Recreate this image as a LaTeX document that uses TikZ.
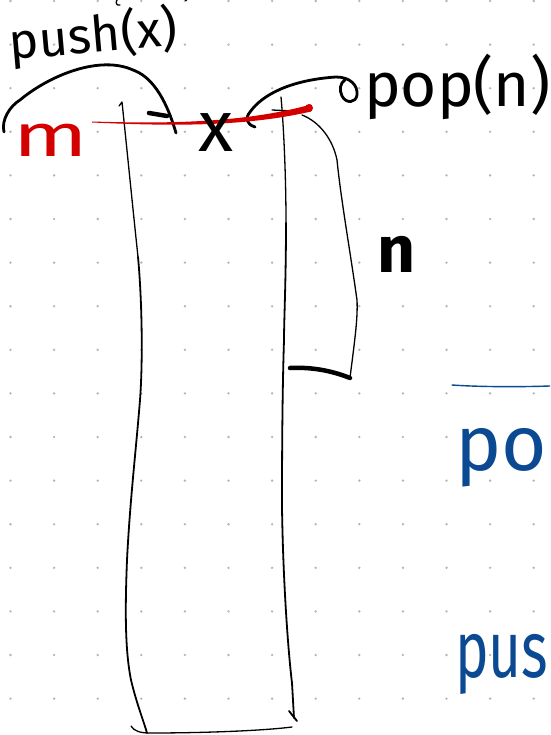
\documentclass[tikz,border=0pt]{standalone}
\usepackage{fontspec}
\setmainfont{Fira Sans}
\usetikzlibrary{arrows.meta}
\definecolor{inkred}{HTML}{D40000}
\definecolor{inkblue}{HTML}{0B4A92}
\definecolor{dotgray}{HTML}{B4B4B4}
\begin{document}
\begin{tikzpicture}[x=1pt,y=-1pt,
  ink/.style={line cap=round,line join=round,draw=black},
  hairink/.style={ink,line width=1.3pt},
  thinink/.style={ink,line width=1.8pt},
  midink/.style={ink,line width=2.8pt},
  thickink/.style={ink,line width=4.5pt},
  hand/.style={inner sep=0pt,outer sep=0pt,anchor=base west},
]
\useasboundingbox (0,0) rectangle (550,735);
\clip (0,0) rectangle (550,735);
\fill[white] (0,0) rectangle (550,735);
% dot grid
\foreach \i in {0,...,12}{\foreach \j in {0,...,16}{\fill[dotgray] (10.5+43.6*\i,1+43.6*\j) circle (1.3pt);}}

% fragments at the top edge
\draw[hairink] (117,0) .. controls (115,3) and (117,6) .. (120,5);
\fill (186,0) circle (1.5pt);

% stack: left side
\draw[hairink] (119,106) -- (122,102) .. controls (126,140) and (133,210) .. (138,257);
\draw[thinink] (138,257) .. controls (142,300) and (143,360) .. (140,400)
   .. controls (136,450) and (130,500) .. (127,560)
   .. controls (125,610) and (125,650) .. (131,680)
   .. controls (137,705) and (144,722) .. (147,733);
% stack: bottom
\draw[hairink] (131,726) .. controls (134,731) and (140,733) .. (150,733)
   .. controls (200,733) and (260,731) .. (292,727);
% stack: right side
\draw[hairink] (272,110) -- (293,111);
\draw[hairink] (281,97) .. controls (284,130) and (286,180) .. (286,223);
\draw[thinink] (286,223) .. controls (286,280) and (284,320) .. (284,340)
   .. controls (282,400) and (282,480) .. (282,507)
   .. controls (283,580) and (288,650) .. (292,683) -- (294,718);
\draw[thinink] (289,711) -- (297,721);

% n bracket
\draw[hairink] (302,115) .. controls (320,122) and (333,140) .. (337,160)
   .. controls (341,200) and (350,250) .. (357,300)
   .. controls (358,320) and (354,345) .. (350,378);
\draw[thickink] (290,368) .. controls (310,367) and (330,370) .. (350,378);

% push arc
\coordinate (pushstart) at (4,132);
\coordinate (pushend) at (176,133);
\draw[midink] (pushstart) .. controls (1,120) and (10,106) .. (20,100)
   .. controls (50,75) and (100,55) .. (133,70)
   .. controls (150,76) and (165,95) .. (pushend);
\draw[ink,line width=4.5pt] (149,113) -- (167,116);

% pop arc
\coordinate (popstart) at (255,127);
\draw[midink] (popstart) .. controls (246,124) and (245,118) .. (250,112)
   .. controls (262,95) and (290,80) .. (336,77)
   .. controls (350,77) and (358,85) .. (357,95)
   .. controls (356,103) and (346,104) .. (342,96)
   .. controls (339,90) and (340,83) .. (345,80);

% red top line
\fill[inkred] (92,121.5) .. controls (160,123.5) and (240,124) .. (311,104.5)
   -- (311,111.5) .. controls (240,128) and (160,125.5) .. (92,122.5) -- cycle;
\fill[inkred] (309,108) circle (4pt);

% texts
\node[hand,rotate=5,font=\fontsize{50}{50}\selectfont] (push) at (11,60) {push(x)};
\node[hand,font=\fontsize{72}{72}\selectfont] (xlab) at (198,152) {x};
\node[hand,font=\fontsize{62}{62}\selectfont] (pop) at (364,107) {pop(n)};
\node[hand,font=\bfseries\fontsize{66}{66}\selectfont] (nlab) at (377,272) {n};
\node[hand,text=inkred,xscale=1.45,font=\fontsize{60}{60}\selectfont] (mlab) at (13,157) {m};

% blue notes at the right edge
\draw[inkblue,line width=1.4pt,line cap=round] (452,385) .. controls (480,387) and (520,387) .. (550,386);
\node[hand,text=inkblue,font=\fontsize{78}{78}\selectfont] (bpop) at (455,470) {pop};
\node[hand,text=inkblue,xscale=0.71,font=\fontsize{80}{80}\selectfont] (bpush) at (455,677) {pus};
\end{tikzpicture}
\end{document}
